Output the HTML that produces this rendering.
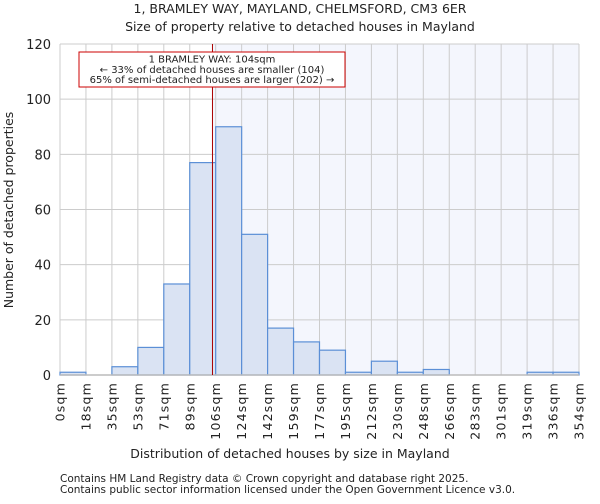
<!DOCTYPE html>
<html><head><meta charset="utf-8"><style>
body{margin:0;background:#fff;font-family:"DejaVu Sans","Liberation Sans",sans-serif}
text{font-family:"DejaVu Sans","Liberation Sans",sans-serif;fill:#222}
</style></head><body>
<svg id="chart" width="600" height="500">
<text x="300" y="13" text-anchor="middle" font-size="12.5">1, BRAMLEY WAY, MAYLAND, CHELMSFORD, CM3 6ER</text>
<text x="300" y="31" text-anchor="middle" font-size="12.5">Size of property relative to detached houses in Mayland</text>
<g id="plot"></g>
<text x="290" y="458" text-anchor="middle" font-size="12.5">Distribution of detached houses by size in Mayland</text>
<text transform="translate(13,210) rotate(-90)" text-anchor="middle" font-size="12.5">Number of detached properties</text>
<text x="60" y="482" font-size="10.5" fill="#444">Contains HM Land Registry data © Crown copyright and database right 2025.</text>
<text x="60" y="493" font-size="10.5" fill="#444">Contains public sector information licensed under the Open Government Licence v3.0.</text>
</svg>
<script>
const binLabels=["0sqm","18sqm","35sqm","53sqm","71sqm","89sqm","106sqm","124sqm","142sqm","159sqm","177sqm","195sqm","212sqm","230sqm","248sqm","266sqm","283sqm","301sqm","319sqm","336sqm","354sqm"];
const counts=[1,0,3,10,33,77,90,51,17,12,9,1,5,1,2,0,0,0,1,1];
const yTicks=[0,20,40,60,80,100,120];
const propertySize=104;
const xMax=354;
const NS="http://www.w3.org/2000/svg";
const L=60,R=579,T=44,B=375,yMax=120;
const nb=counts.length;
const xb=i=>L+i*(R-L)/nb;
const xv=v=>L+v/xMax*(R-L);
const y=v=>B-v/yMax*(B-T);
const g=document.getElementById('plot');
function mk(t,a){const e=document.createElementNS(NS,t);for(const k in a)e.setAttribute(k,a[k]);g.appendChild(e);return e;}
let bg=mk('rect',{x:L,y:T,width:R-L,height:B-T,fill:'#fff'});


let sh=mk('rect',{x:xv(propertySize),y:T,width:R-xv(propertySize),height:B-T,fill:'#f4f6fd'});


for(let i=0;i<=nb;i++){
 let l=mk('line',{x1:xb(i),x2:xb(i),y1:T,y2:B,stroke:'#cccccc','stroke-width':1});
 
 
 let t=mk('text',{transform:`translate(${xb(i)+4.5},382) rotate(-90)`,'text-anchor':'end','font-size':'12.5','letter-spacing':'1.2'});
 t.textContent=binLabels[i];
 
 
}
yTicks.forEach(v=>{
 let l=mk('line',{x1:L,x2:R,y1:y(v),y2:y(v),stroke:'#cccccc','stroke-width':1});
 
 
 let t=mk('text',{x:L-9,y:y(v)+5,'text-anchor':'end','font-size':'13'});
 t.textContent=v;
 
 
});
counts.forEach((c,i)=>{
 if(c<=0)return;
 let r=mk('rect',{x:xb(i),y:y(c),width:xb(i+1)-xb(i),height:B-y(c),fill:'#dae3f3',stroke:'#5b8fd6','stroke-width':1.2});
 
 
});
let ax=mk('line',{x1:L,x2:R,y1:B,y2:B,stroke:'#bbb','stroke-width':1.5});


let ml=mk('line',{x1:xv(propertySize),x2:xv(propertySize),y1:T,y2:B,stroke:'#aa0000','stroke-width':1});


let box=mk('rect',{x:79,y:52,width:266,height:35,fill:'#fff',stroke:'#cc0000','stroke-width':1});


["1 BRAMLEY WAY: 104sqm","← 33% of detached houses are smaller (104)","65% of semi-detached houses are larger (202) →"].forEach((s,k)=>{
 let t=mk('text',{x:212,y:62.5+k*10.3,'text-anchor':'middle','font-size':'10'});
 t.textContent=s;
 
 
});
</script>
</body></html>
